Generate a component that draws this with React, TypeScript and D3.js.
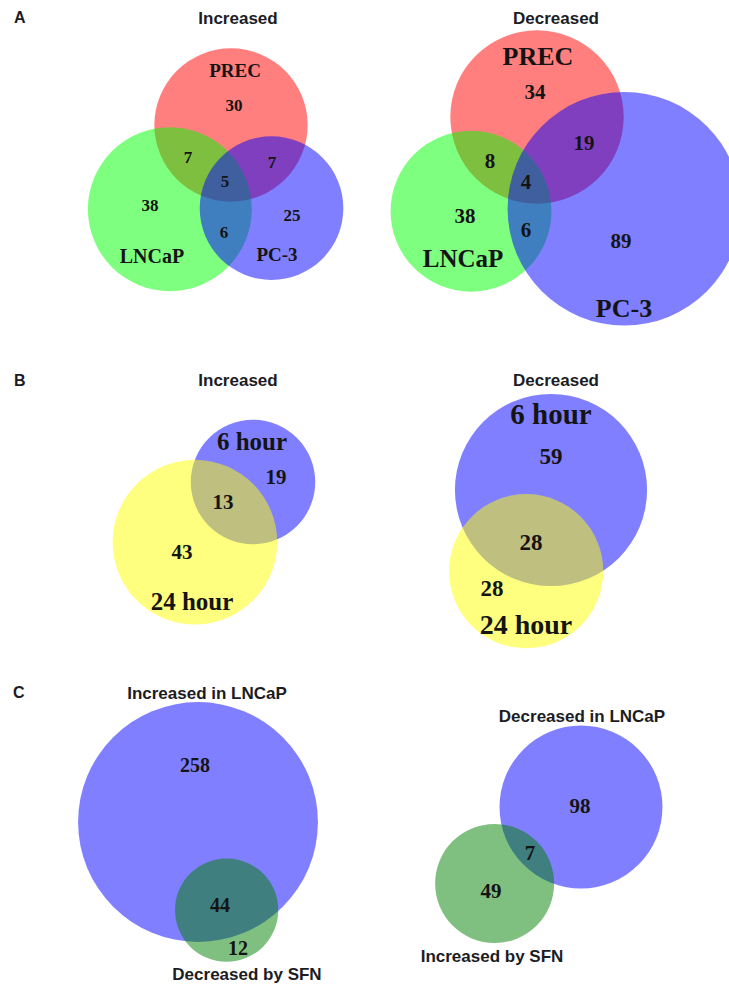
import * as d3 from 'd3';

const WIDTH = 729;
const HEIGHT = 984;

// ---- data ----
// panel A: sets PREC, LNCaP, PC-3
const A_SETS = ['PREC', 'LNCaP', 'PC-3'];
// only-in-set counts, order PREC, LNCaP, PC-3
const A_INC_ONLY = [30, 38, 25];
// pairs: PREC&LNCaP, PREC&PC-3, LNCaP&PC-3 (without the triple)
const A_INC_PAIRS = [7, 7, 6];
const A_INC_ALL = 5;
const A_DEC_ONLY = [34, 38, 89];
const A_DEC_PAIRS = [8, 19, 6];
const A_DEC_ALL = 4;

// panel B: 6 hour vs 24 hour -> [only 6h, only 24h, both]
const B_SETS = ['6 hour', '24 hour'];
const B_INC = [19, 43, 13];
const B_DEC = [59, 28, 28];

// panel C -> [only first, only second, both]
const C_LEFT_SETS = ['Increased in LNCaP', 'Decreased by SFN'];
const C_LEFT = [258, 12, 44];
const C_RIGHT_SETS = ['Decreased in LNCaP', 'Increased by SFN'];
const C_RIGHT = [98, 49, 7];

const SERIF = '"Liberation Serif", "Times New Roman", serif';
const SANS = '"Liberation Sans", Arial, sans-serif';
const INK = '#141414';

// ---- geometry helpers (area proportional venn) ----
function lensArea(r1: number, r2: number, d: number) {
  if (d >= r1 + r2) return 0;
  if (d <= Math.abs(r1 - r2)) return Math.PI * Math.min(r1, r2) ** 2;
  const a1 = Math.acos((d * d + r1 * r1 - r2 * r2) / (2 * d * r1));
  const a2 = Math.acos((d * d + r2 * r2 - r1 * r1) / (2 * d * r2));
  const t = Math.sqrt((-d + r1 + r2) * (d + r1 - r2) * (d - r1 + r2) * (d + r1 + r2));
  return r1 * r1 * a1 + r2 * r2 * a2 - 0.5 * t;
}

function solveDistance(r1: number, r2: number, area: number) {
  let lo = Math.abs(r1 - r2);
  let hi = r1 + r2;
  for (let i = 0; i < 60; i++) {
    const mid = (lo + hi) / 2;
    if (lensArea(r1, r2, mid) > area) lo = mid;
    else hi = mid;
  }
  return (lo + hi) / 2;
}

type Circle = { cx: number; cy: number; r: number };

function layout2(counts: number[], k: number, anchor: number[], angle: number): Circle[] {
  const rScale = d3.scaleSqrt().domain([0, 1]).range([0, k]);
  const totals = [counts[0] + counts[2], counts[1] + counts[2]];
  const radii = totals.map((t) => rScale(t));
  const unit = Math.PI * k * k;
  const d = solveDistance(radii[0], radii[1], counts[2] * unit);
  const a = (angle * Math.PI) / 180;
  return [
    { cx: anchor[0], cy: anchor[1], r: radii[0] },
    { cx: anchor[0] + d * Math.cos(a), cy: anchor[1] + d * Math.sin(a), r: radii[1] },
  ];
}

function layout3(only: number[], pairs: number[], all: number, k: number, anchor: number[], angle: number, side: number): Circle[] {
  const rScale = d3.scaleSqrt().domain([0, 1]).range([0, k]);
  const totals = [
    only[0] + pairs[0] + pairs[1] + all,
    only[1] + pairs[0] + pairs[2] + all,
    only[2] + pairs[1] + pairs[2] + all,
  ];
  const radii = totals.map((t) => rScale(t));
  const unit = Math.PI * k * k;
  const d01 = solveDistance(radii[0], radii[1], (pairs[0] + all) * unit);
  const d02 = solveDistance(radii[0], radii[2], (pairs[1] + all) * unit);
  const d12 = solveDistance(radii[1], radii[2], (pairs[2] + all) * unit);
  const a = (angle * Math.PI) / 180;
  const cosT = Math.max(-1, Math.min(1, (d01 * d01 + d02 * d02 - d12 * d12) / (2 * d01 * d02)));
  const a2 = a + side * Math.acos(cosT);
  return [
    { cx: anchor[0], cy: anchor[1], r: radii[0] },
    { cx: anchor[0] + d01 * Math.cos(a), cy: anchor[1] + d01 * Math.sin(a), r: radii[1] },
    { cx: anchor[0] + d02 * Math.cos(a2), cy: anchor[1] + d02 * Math.sin(a2), r: radii[2] },
  ];
}

// ---- layout (positions / styles only) ----
// number positions order for 3 sets: only0, only1, only2, p01, p02, p12, all
const A_INC_NUM_POS = [[234, 111], [150, 211], [292, 221], [188, 163], [272, 168], [224, 238], [225, 187]];
const A_INC_LABEL_POS = [[235, 77, 19], [152, 263, 20], [277, 261, 19]];
const A_DEC_NUM_POS = [[535, 99], [465, 223], [621, 248], [490, 168], [584, 150], [526, 237], [526, 189]];
const A_DEC_LABEL_POS = [[538, 65, 26], [463, 267, 25], [624, 317, 26]];
// 2 sets: only0, only1, both
const B_INC_NUM_POS = [[276, 484], [182, 559], [223, 509]];
const B_INC_LABEL_POS = [[252, 450, 25], [192, 610, 25]];
const B_DEC_NUM_POS = [[551, 464], [492, 596], [531, 550]];
const B_DEC_LABEL_POS = [[551, 424, 29], [526, 634, 28]];
const C_LEFT_NUM_POS = [[195, 772], [238, 955], [220, 912]];
const C_LEFT_LABEL_POS = [[207, 699], [247, 980]];
const C_RIGHT_NUM_POS = [[580, 813], [491, 898], [530, 860]];
const C_RIGHT_LABEL_POS = [[582, 722], [492, 962]];

function Circles({ circles, colors, opacity = 0.5 }: { circles: Circle[]; colors: string[]; opacity?: number }) {
  return (
    <g>
      {circles.map((c, i) => (
        <circle key={i} cx={c.cx} cy={c.cy} r={c.r} fill={colors[i]} fillOpacity={opacity} />
      ))}
    </g>
  );
}

function Numbers({ values, pos, size }: { values: number[]; pos: number[][]; size: number }) {
  return (
    <g fontFamily={SERIF} fontWeight="bold" fontSize={size} fill={INK} textAnchor="middle">
      {values.map((v, i) => (
        <text key={i} x={pos[i][0]} y={pos[i][1]}>
          {v}
        </text>
      ))}
    </g>
  );
}

function SerifLabels({ names, pos }: { names: string[]; pos: number[][] }) {
  return (
    <g fontFamily={SERIF} fontWeight="bold" fill={INK} textAnchor="middle">
      {names.map((n, i) => (
        <text key={n} x={pos[i][0]} y={pos[i][1]} fontSize={pos[i][2]}>
          {n}
        </text>
      ))}
    </g>
  );
}

function SansLabels({ names, pos }: { names: string[]; pos: number[][] }) {
  return (
    <g fontFamily={SANS} fontWeight="bold" fontSize={17} fill="#1c1c24" textAnchor="middle">
      {names.map((n, i) => (
        <text key={n} x={pos[i][0]} y={pos[i][1]}>
          {n}
        </text>
      ))}
    </g>
  );
}

export default function App() {
  const aInc = layout3(A_INC_ONLY, A_INC_PAIRS, A_INC_ALL, 10.95, [231, 125], 126, -1);
  const aDec = layout3(A_DEC_ONLY, A_DEC_PAIRS, A_DEC_ALL, 10.75, [537, 117], 125, -1);
  const bInc = layout2(B_INC, 11, [253, 482], 134);
  const bDec = layout2(B_DEC, 10.3, [551, 490], 107);
  const cLeft = layout2(C_LEFT, 6.9, [198, 822], 72);
  const cRight = layout2(C_RIGHT, 7.95, [581, 807], 138.5);

  const aVals = (only: number[], pairs: number[], all: number) => [...only, ...pairs, all];
  const rgb = ['#ff0000', '#00ff00', '#0000ff'];

  return (
    <svg
      width={WIDTH}
      height={HEIGHT}
      viewBox={`0 0 ${WIDTH} ${HEIGHT}`}
      style={{ position: 'absolute', left: 0, top: 0, background: '#fff' }}
    >
      <rect width={WIDTH} height={HEIGHT} fill="#fff" />

      {/* panel letters and titles */}
      <g fontFamily={SANS} fontWeight="bold" fontSize={16} fill="#1c1c24">
        <text x={14} y={23}>A</text>
        <text x={14} y={386}>B</text>
        <text x={13} y={698}>C</text>
        <text x={238} y={24} textAnchor="middle" fontSize={17}>Increased</text>
        <text x={556} y={24} textAnchor="middle" fontSize={17}>Decreased</text>
        <text x={238} y={386} textAnchor="middle" fontSize={17}>Increased</text>
        <text x={556} y={386} textAnchor="middle" fontSize={17}>Decreased</text>
      </g>

      {/* A */}
      <Circles circles={aInc} colors={rgb} />
      <Numbers values={aVals(A_INC_ONLY, A_INC_PAIRS, A_INC_ALL)} pos={A_INC_NUM_POS} size={17} />
      <SerifLabels names={A_SETS} pos={A_INC_LABEL_POS} />

      <Circles circles={aDec} colors={rgb} />
      <Numbers values={aVals(A_DEC_ONLY, A_DEC_PAIRS, A_DEC_ALL)} pos={A_DEC_NUM_POS} size={21} />
      <SerifLabels names={A_SETS} pos={A_DEC_LABEL_POS} />

      {/* B: blue (6 hour) under yellow (24 hour) */}
      <Circles circles={bInc} colors={['#0000ff', '#ffff00']} />
      <Numbers values={B_INC} pos={B_INC_NUM_POS} size={21} />
      <SerifLabels names={B_SETS} pos={B_INC_LABEL_POS} />

      <Circles circles={bDec} colors={['#0000ff', '#ffff00']} />
      <Numbers values={B_DEC} pos={B_DEC_NUM_POS} size={23} />
      <SerifLabels names={B_SETS} pos={B_DEC_LABEL_POS} />

      {/* C: blue under green */}
      <Circles circles={cLeft} colors={['#0000ff', '#008000']} />
      <Numbers values={C_LEFT} pos={C_LEFT_NUM_POS} size={20} />
      <SansLabels names={C_LEFT_SETS} pos={C_LEFT_LABEL_POS} />

      <Circles circles={cRight} colors={['#0000ff', '#008000']} />
      <Numbers values={C_RIGHT} pos={C_RIGHT_NUM_POS} size={21} />
      <SansLabels names={C_RIGHT_SETS} pos={C_RIGHT_LABEL_POS} />
    </svg>
  );
}
